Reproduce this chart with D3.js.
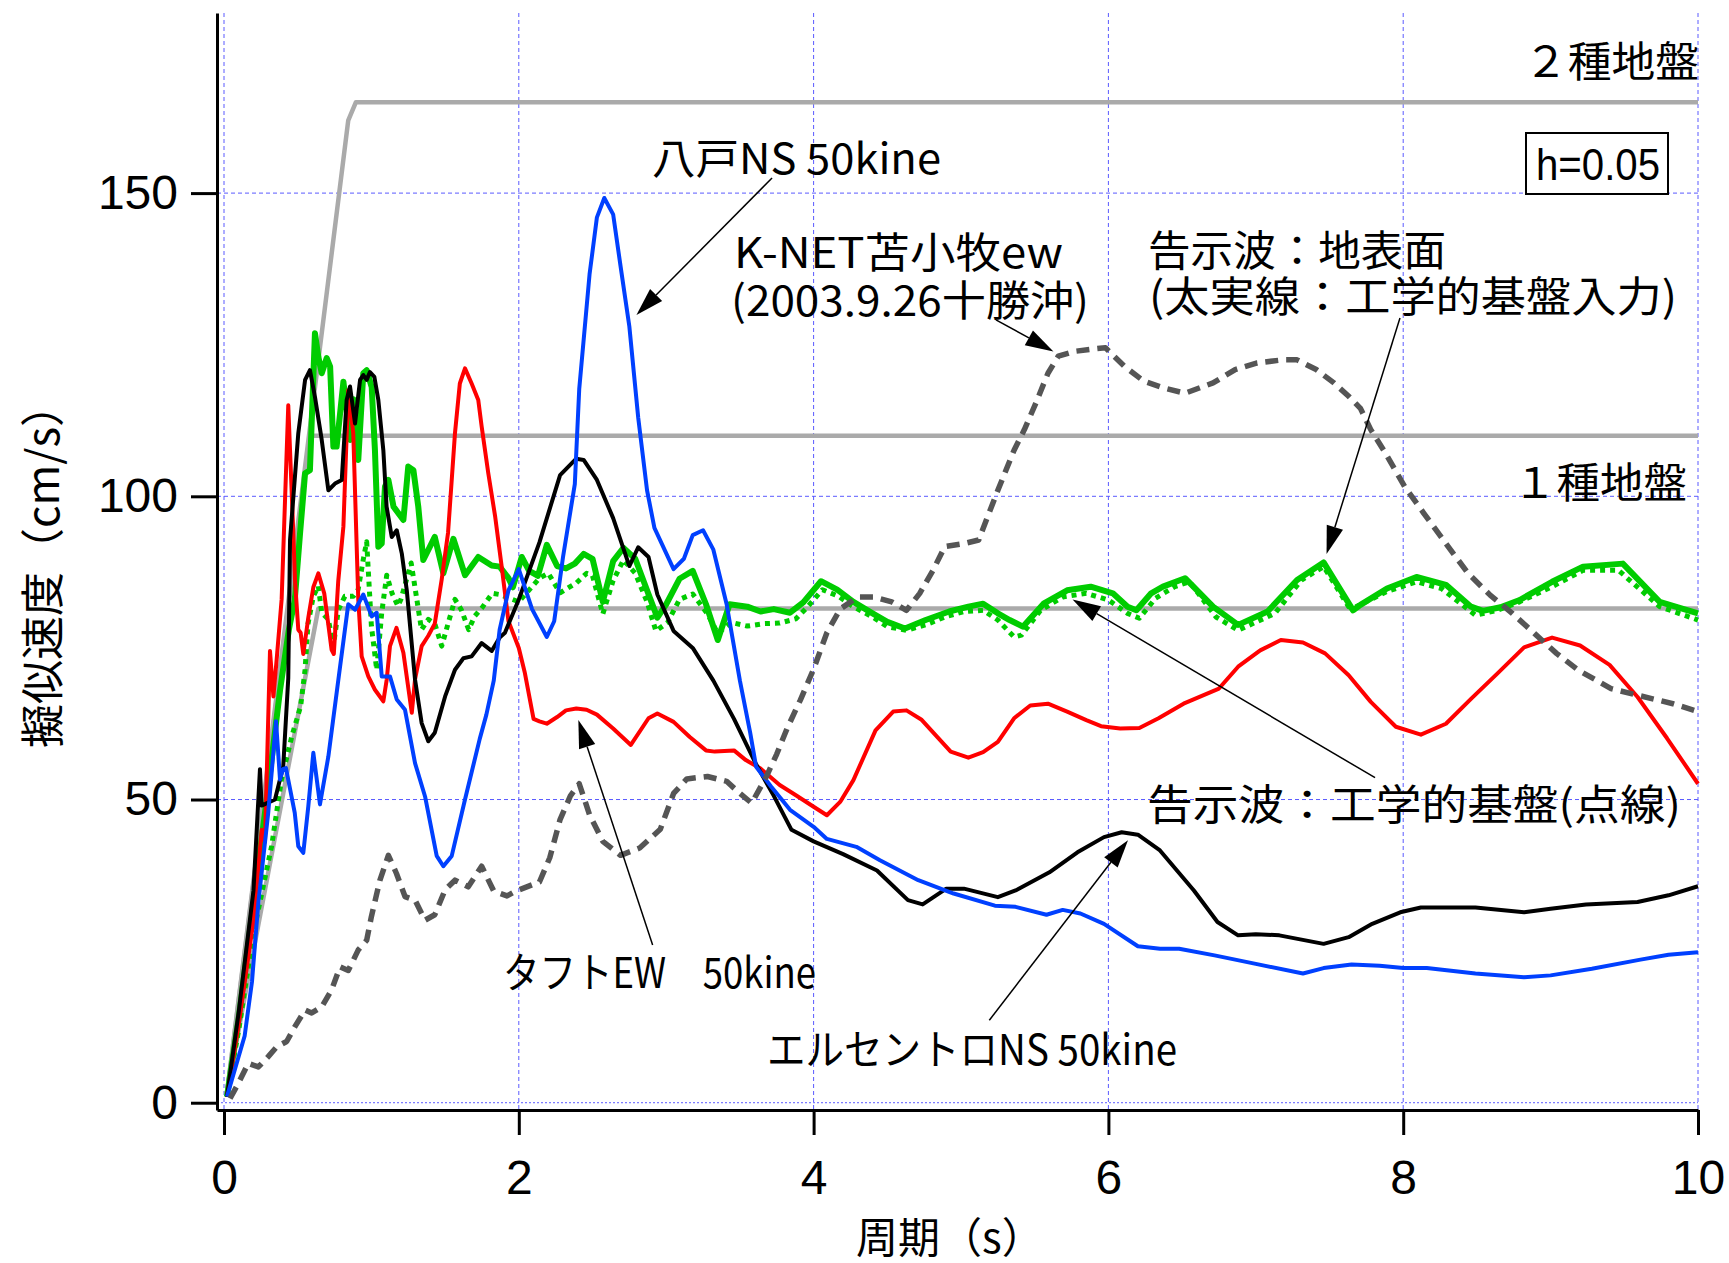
<!DOCTYPE html>
<html>
<head>
<meta charset="utf-8">
<script src="https://cdn.jsdelivr.net/npm/d3@7"></script>
<style>
  body { margin: 0; background: #fff; }
  svg { display: block; }
</style>
</head>
<body>
<svg id="chart" width="1729" height="1263"></svg>
<script>
// Pseudo-velocity response spectra, h = 0.05. Each entry: [period (s), pSv (cm/s)]

// 八戸NS 50kine
const hachinoheNS = [
  [0.02,1],[0.14,11],[0.19,20],[0.233,33],[0.30,47.8],[0.353,62.9],[0.38,53.3],[0.40,55],[0.42,55.2],
  [0.48,47.8],[0.504,42.3],[0.538,41.2],[0.572,48.9],[0.606,57.7],[0.651,49.2],[0.708,57.1],[0.776,69.8],
  [0.843,82.2],[0.889,81.3],[0.945,83.8],[1.002,80.2],[1.036,80.8],[1.07,70.3],[1.126,70.3],[1.172,66.5],
  [1.228,64.8],[1.296,56],[1.364,50.5],[1.443,40.7],[1.488,39],[1.545,40.7],[1.635,50],[1.735,60],
  [1.78,64],[1.83,69.6],[1.87,78],[1.93,84.5],[2.0,88],[2.09,81.4],[2.19,76.8],[2.24,79.4],[2.30,90],
  [2.38,102],[2.41,117.7],[2.48,136.6],[2.53,146],[2.58,149.2],[2.64,146.5],[2.69,138],[2.75,128],
  [2.81,113],[2.87,101],[2.92,94.8],[3.05,88],[3.12,89.7],[3.18,93.6],[3.25,94.4],[3.32,91.2],[3.41,82.2],
  [3.50,69.6],[3.57,61],[3.61,55.4],[3.71,52.2],[3.84,48.3],[4.0,45.5],[4.09,43.5],[4.29,42.2],[4.45,40],
  [4.71,36.7],[4.95,34.5],[5.23,32.5],[5.37,32.3],[5.58,31],[5.69,31.8],[5.81,31.2],[5.97,29.5],[6.2,25.8],
  [6.35,25.4],[6.48,25.4],[6.72,24.3],[7.0,22.9],[7.32,21.3],[7.46,22.2],[7.65,22.8],[7.84,22.6],[8.0,22.2],
  [8.16,22.2],[8.49,21.3],[8.82,20.7],[9.0,21],[9.28,22.1],[9.61,23.6],[9.8,24.4],[10,24.8]
];

// エルセントロNS 50kine
const elCentroNS = [
  [0.02,1],[0.1,15],[0.2,35],[0.244,55],[0.255,49],[0.346,50],[0.402,55.5],[0.436,70],[0.448,92.8],
  [0.504,110.4],[0.55,119.2],[0.583,120.8],[0.617,116.4],[0.663,109.3],[0.708,101],[0.753,102.1],
  [0.799,102.7],[0.832,115.9],[0.855,118.1],[0.889,112],[0.923,119.2],[0.945,120],[0.968,119.2],
  [0.99,120.5],[1.02,119.7],[1.047,115.9],[1.081,107.6],[1.103,98.3],[1.138,93.3],[1.172,94.4],
  [1.206,90.6],[1.24,84.5],[1.296,69.8],[1.341,62.6],[1.386,59.6],[1.43,61],[1.5,67],[1.567,71.4],
  [1.624,73.3],[1.68,73.6],[1.748,75.8],[1.816,74.5],[1.87,76.7],[1.906,77.5],[2.0,83],[2.14,92.4],
  [2.28,103.5],[2.39,106.2],[2.44,106],[2.53,102.7],[2.64,96.4],[2.75,88.5],[2.81,91.6],[2.88,90],
  [2.94,83.8],[3.05,77.8],[3.18,75],[3.32,69.6],[3.46,63.3],[3.61,55.8],[3.73,50.6],[3.85,45],[4.0,43.1],
  [4.2,41],[4.43,38.3],[4.64,33.4],[4.74,32.7],[4.9,35.3],[5.02,35.3],[5.25,33.9],[5.37,35],[5.6,38],
  [5.79,41.3],[5.97,43.8],[6.09,44.6],[6.2,44.2],[6.35,41.6],[6.58,35],[6.74,29.8],[6.88,27.6],[7.0,27.8],
  [7.16,27.6],[7.46,26.2],[7.63,27.3],[7.79,29.5],[7.98,31.4],[8.12,32.2],[8.49,32.2],[8.82,31.4],[9.0,32],
  [9.24,32.7],[9.59,33.1],[9.8,34.2],[10,35.7]
];

// タフトEW 50kine
const taftEW = [
  [0.02,1],[0.1,13],[0.2,30],[0.256,45],[0.278,43],[0.312,74.5],[0.335,67],[0.357,73],[0.391,83],
  [0.436,115],[0.47,94],[0.482,86],[0.504,78],[0.52,77.5],[0.538,74],[0.572,80],[0.606,85],[0.64,87.3],
  [0.68,84],[0.73,74.7],[0.745,74],[0.775,86],[0.81,95],[0.843,117.5],[0.877,110.4],[0.911,83],
  [0.934,73.6],[0.979,70.3],[1.024,68.1],[1.081,66.2],[1.104,69.8],[1.126,75.3],[1.17,78.3],[1.217,74.2],
  [1.274,64.3],[1.296,69.8],[1.341,75.3],[1.386,77],[1.43,79],[1.477,86.3],[1.52,94],[1.567,110.4],
  [1.6,118.6],[1.635,121.1],[1.68,118.6],[1.725,115.9],[1.748,111.5],[1.793,103.8],[1.84,96.6],
  [1.884,88.4],[1.93,79.4],[2.0,75],[2.04,71],[2.1,63.3],[2.14,62.9],[2.19,62.5],[2.26,63.6],[2.32,64.7],
  [2.39,65],[2.46,64.8],[2.53,64],[2.64,61.7],[2.76,59],[2.88,63.4],[2.94,64.2],[3.05,62.8],[3.16,60.3],
  [3.27,58.1],[3.33,57.9],[3.46,58.1],[3.54,56.5],[3.64,55.1],[3.77,52.4],[3.88,50.7],[4.0,48.8],
  [4.09,47.4],[4.18,49.6],[4.27,53.2],[4.42,61.4],[4.54,64.5],[4.63,64.7],[4.73,63.2],[4.84,60.3],
  [4.93,57.9],[5.05,56.9],[5.15,57.8],[5.25,59.5],[5.36,63.4],[5.47,65.5],[5.59,65.8],[5.72,64.5],
  [5.85,63.1],[5.95,62.1],[6.08,61.7],[6.21,61.8],[6.34,63.4],[6.51,65.8],[6.75,68.3],[6.88,71.9],
  [7.03,74.6],[7.17,76.3],[7.32,75.9],[7.47,74.1],[7.63,70.5],[7.78,66.1],[7.95,62],[8.12,60.7],
  [8.29,62.5],[8.46,66.6],[8.64,70.8],[8.82,75.1],[9.01,76.7],[9.2,75.4],[9.4,72.2],[9.59,66.9],
  [9.79,60.1],[10,52.6]
];

// 告示波：地表面 (engineering bedrock input)
const kokujiSurface = [
  [0.02,1],[0.1,14],[0.2,33],[0.3,52],[0.38,68],[0.44,78],[0.48,82.9],[0.516,93.9],[0.55,103.8],
  [0.583,104.3],[0.617,126.9],[0.64,123],[0.663,120.3],[0.697,122.8],[0.72,121.4],[0.742,108.2],
  [0.764,108.2],[0.81,118.9],[0.855,109.3],[0.878,116],[0.911,106],[0.945,120.3],[0.968,120.8],
  [1.002,118],[1.024,107.6],[1.047,91.7],[1.07,92.2],[1.092,101.6],[1.115,102.7],[1.15,98.3],
  [1.217,96.1],[1.25,104.9],[1.285,104.3],[1.318,98.3],[1.352,89.5],[1.43,93.3],[1.488,87.3],
  [1.556,93],[1.635,87],[1.725,90],[1.816,88.6],[1.87,88.4],[1.93,86.5],[1.96,85],[2.02,90],[2.07,87.7],
  [2.13,86.9],[2.19,92],[2.26,88.5],[2.32,88.1],[2.38,88.9],[2.44,90.5],[2.5,89.7],[2.57,82.6],
  [2.64,89.3],[2.71,91.5],[2.79,89.7],[2.87,84.5],[2.94,80],[3.0,82.2],[3.09,86.4],[3.18,87.7],
  [3.27,82.2],[3.35,76.3],[3.43,82.2],[3.55,81.8],[3.64,81],[3.73,81.4],[3.84,80.8],[3.93,82.5],
  [4.05,86],[4.16,84.6],[4.27,82.6],[4.4,80.7],[4.5,79.3],[4.62,78.2],[4.76,79.6],[4.92,81],[5.05,81.8],
  [5.15,82.3],[5.25,80.7],[5.33,79.6],[5.42,78.5],[5.56,82.3],[5.72,84.5],[5.88,85.1],[6.03,84],
  [6.13,81.8],[6.19,81.2],[6.29,84],[6.37,85.1],[6.52,86.5],[6.71,81.8],[6.88,78.8],[7.08,81],
  [7.28,86.2],[7.46,89.1],[7.66,81.2],[7.71,82.1],[7.89,84.8],[8.09,86.7],[8.29,85.4],[8.46,81.8],
  [8.54,81.1],[8.66,81.7],[8.79,82.9],[9.01,85.9],[9.22,88.4],[9.49,88.9],[9.74,82.6],[10,80.7]
];

// 告示波：工学的基盤
const kokujiBedrock = [
  [0.02,1],[0.1,12],[0.2,28],[0.323,42.3],[0.39,53.3],[0.46,60.4],[0.52,65.4],[0.55,71.4],[0.57,79],
  [0.606,83.5],[0.64,85.2],[0.663,80.8],[0.708,79.7],[0.742,75.3],[0.776,81.3],[0.82,83.5],[0.877,83.5],
  [0.91,84.6],[0.945,89.6],[0.968,92.5],[1.0,78.6],[1.036,71.4],[1.07,80.8],[1.104,87],[1.14,84],
  [1.18,81.9],[1.2,83],[1.27,89],[1.34,78],[1.386,79.7],[1.43,79],[1.477,75.3],[1.52,79],[1.567,83],
  [1.61,81.3],[1.66,78],[1.7,80.2],[1.75,81.6],[1.82,84],[1.87,83.8],[2.0,82.6],[2.14,86.5],[2.2,87.3],
  [2.28,84.1],[2.39,85.7],[2.46,87.3],[2.5,86.9],[2.57,80.6],[2.64,86.1],[2.71,89.5],[2.79,87.3],
  [2.87,82.6],[2.93,77.8],[3.01,79.2],[3.09,83],[3.18,83.9],[3.28,80.6],[3.35,77.4],[3.44,79.2],
  [3.55,78.6],[3.66,79],[3.77,79.1],[3.88,79.8],[3.96,81.8],[4.06,84.6],[4.17,83.5],[4.27,81.8],
  [4.4,80.1],[4.5,78.5],[4.63,77.9],[4.76,78.8],[4.89,80.1],[5.02,81],[5.15,81.2],[5.25,79.6],
  [5.36,76.8],[5.41,77.1],[5.54,81.2],[5.69,83.4],[5.85,84],[6.0,82.9],[6.13,80.7],[6.21,79.9],
  [6.32,83.2],[6.45,85.1],[6.55,85.9],[6.73,80.1],[6.88,77.9],[7.13,80.7],[7.31,86.2],[7.46,88.4],
  [7.63,81.8],[7.68,81.8],[7.89,84.3],[8.09,85.9],[8.26,84.8],[8.49,80.4],[8.64,81.2],[8.79,82.6],
  [9.01,85.1],[9.22,87.8],[9.46,87.8],[9.74,81.8],[10,79.6]
];

// K-NET苫小牧ew (2003.9.26 十勝沖)
const knetTomakomaiEW = [
  [0.041,0.7],[0.097,3.2],[0.165,6.5],[0.233,5.9],[0.3,7.6],[0.357,9.2],[0.425,10.1],[0.48,12.5],
  [0.55,15.3],[0.595,14.8],[0.663,15.8],[0.73,18.6],[0.787,22.4],[0.843,21.8],[0.911,25.2],[0.968,26.8],
  [1.0,30.7],[1.058,36.7],[1.115,40.8],[1.17,37.8],[1.228,34],[1.296,33.4],[1.364,30.1],[1.43,31],
  [1.5,35.1],[1.567,36.7],[1.657,35.6],[1.748,39],[1.83,34.9],[1.92,34.1],[1.98,34.9],[2.14,36.4],
  [2.21,40.4],[2.28,46.7],[2.35,50.6],[2.41,52.6],[2.48,47.5],[2.57,43.1],[2.69,40.8],[2.82,42],
  [2.96,45.1],[3.05,51],[3.14,53.4],[3.28,53.8],[3.41,53],[3.5,51],[3.58,49.4],[3.68,53.8],[3.75,57.5],
  [3.82,61.7],[3.91,66.4],[4.0,71.5],[4.09,77.5],[4.18,81.4],[4.3,83.4],[4.41,83.4],[4.53,82.6],
  [4.63,81.2],[4.72,84],[4.81,87.8],[4.89,91.7],[5.02,92.2],[5.12,92.8],[5.18,96.6],[5.25,101],
  [5.36,107.6],[5.43,111],[5.51,115.5],[5.59,120.3],[5.66,123.1],[5.77,123.9],[5.9,124.3],[5.98,124.5],
  [6.11,121.4],[6.24,119],[6.37,117.9],[6.52,117],[6.71,118.7],[6.86,120.9],[7.01,122],[7.18,122.5],
  [7.28,122.5],[7.41,120.9],[7.53,118.7],[7.63,116.5],[7.71,114.5],[7.78,111],[7.88,107.1],[8.01,101.6],
  [8.14,97.2],[8.29,92.2],[8.44,87.3],[8.59,83.7],[8.74,80.7],[8.89,77.4],[9.04,74.1],[9.19,71.3],
  [9.41,68.3],[9.59,67.2],[9.83,65.8],[10,64.5]
];

// Design spectra (告示) envelopes
const designType2 = [[0.02,1.5],[0.843,162],[0.895,165],[10,165]];   // ２種地盤
const designType1 = [[0.02,1.5],[0.583,110],[10,110]];                // １種地盤
const designBedrock = [[0.02,1.5],[0.16,20],[0.64,81.5],[10,81.5]];   // 工学的基盤

const xTicks = [0, 2, 4, 6, 8, 10];
const yTicks = [0, 50, 100, 150];

// ---------------------------------------------------------------------------
const svg = d3.select('#chart');
const W = 1729, H = 1263;
const plot = { left: 217, right: 1698, top: 13, bottom: 1110 };

const x = d3.scaleLinear().domain([-0.0475, 10]).range([plot.left, plot.right]);
const y = d3.scaleLinear().domain([-1.2, 179.7]).range([plot.bottom, plot.top]);

svg.append('rect').attr('width', W).attr('height', H).attr('fill', '#fff');

// grid
const grid = svg.append('g').attr('class', 'grid')
  .attr('stroke', '#5a5aff').attr('stroke-width', 1).attr('fill', 'none');
grid.selectAll('line.vx').data(xTicks).join('line')
  .attr('x1', d => x(d)).attr('x2', d => x(d))
  .attr('y1', plot.top).attr('y2', plot.bottom)
  .attr('stroke-dasharray', '4,3');
grid.selectAll('line.hy').data(yTicks).join('line')
  .attr('x1', plot.left).attr('x2', plot.right)
  .attr('y1', d => y(d)).attr('y2', d => y(d))
  .attr('stroke-dasharray', d => d === 0 ? '2,2' : '4,3');

const line = d3.line().x(d => x(d[0])).y(d => y(d[1]));

const series = [
  { data: designType2,    color: '#aaaaaa', width: 4.5 },
  { data: designType1,    color: '#aaaaaa', width: 4.5 },
  { data: designBedrock,  color: '#aaaaaa', width: 4.5 },
  { data: kokujiBedrock,  color: '#00cc00', width: 5, dash: '5,5' },
  { data: kokujiSurface,  color: '#00cc00', width: 6 },
  { data: taftEW,         color: '#ff0000', width: 4 },
  { data: elCentroNS,     color: '#000000', width: 4 },
  { data: hachinoheNS,    color: '#0040ff', width: 4 },
  { data: knetTomakomaiEW,color: '#555555', width: 5.5, dash: '13,8' }
];

svg.append('g').selectAll('path').data(series).join('path')
  .attr('d', d => line(d.data))
  .attr('fill', 'none')
  .attr('stroke', d => d.color)
  .attr('stroke-width', d => d.width)
  .attr('stroke-linejoin', 'round')
  .attr('stroke-dasharray', d => d.dash || null);

// axes
const tickFont = '"Liberation Sans", Arial, sans-serif';
const xAxis = svg.append('g').attr('transform', `translate(0,${plot.bottom})`)
  .call(d3.axisBottom(x).tickValues(xTicks).tickSize(25).tickSizeOuter(0).tickPadding(25)
    .tickFormat(d3.format('d')));
const yAxis = svg.append('g').attr('transform', `translate(${plot.left},0)`)
  .call(d3.axisLeft(y).tickValues(yTicks).tickSize(26).tickSizeOuter(0).tickPadding(13)
    .tickFormat(d3.format('d')));
[xAxis, yAxis].forEach(g => {
  g.select('.domain').attr('stroke', '#000').attr('stroke-width', 3);
  g.selectAll('.tick line').attr('stroke', '#000').attr('stroke-width', 3);
  g.selectAll('.tick text').attr('fill', '#000')
    .style('font-family', tickFont).style('font-size', '48px');
});

// axis titles
const jpFont = '"Noto Sans CJK JP", "Noto Sans CJK SC", sans-serif';
svg.append('text')
  .attr('x', 856).attr('y', 1234)
  .attr('dominant-baseline', 'central')
  .style('font-family', jpFont).style('font-size', '42px')
  .text('周期（s）');
svg.append('text')
  .attr('transform', 'translate(40,748) rotate(-90)')
  .attr('dominant-baseline', 'central')
  .style('font-family', jpFont).style('font-size', '44px')
  .text('擬似速度（cm/s）');

// annotation labels; multi-line labels are one text element with one tspan per line
const labels = [
  { lines: [{ t: '２種地盤', x: 1524, y: 58, w: 175 }] },
  { lines: [{ t: '１種地盤', x: 1513, y: 479, w: 174 }] },
  { lines: [{ t: '八戸NS 50kine', x: 652, y: 155, w: 289 }] },
  { lines: [{ t: 'K-NET苫小牧ew', x: 734, y: 249, w: 329 },
            { t: '(2003.9.26十勝沖)', x: 731, y: 297, w: 358 }] },
  { lines: [{ t: '告示波：地表面', x: 1148, y: 247, w: 298 },
            { t: '(太実線：工学的基盤入力)', x: 1149, y: 293, w: 528 }] },
  { lines: [{ t: '告示波：工学的基盤(点線)', x: 1147, y: 801, w: 534 }] },
  { lines: [{ t: 'タフトEW　50kine', x: 503, y: 969, w: 313 }] },
  { lines: [{ t: 'エルセントロNS 50kine', x: 767, y: 1046, w: 410 }] }
];
svg.append('g').selectAll('text').data(labels).join('text')
  .style('font-family', jpFont).style('font-size', '42px')
  .selectAll('tspan').data(d => d.lines).join('tspan')
  .attr('x', d => d.x).attr('y', d => d.y)
  .attr('dominant-baseline', 'central')
  .attr('textLength', d => d.w).attr('lengthAdjust', 'spacingAndGlyphs')
  .text(d => d.t);

// damping box
svg.append('rect')
  .attr('x', 1526).attr('y', 133).attr('width', 142).attr('height', 61)
  .attr('fill', '#fff').attr('stroke', '#000').attr('stroke-width', 2);
svg.append('text')
  .attr('x', 1536).attr('y', 180)
  .attr('textLength', 124).attr('lengthAdjust', 'spacingAndGlyphs')
  .style('font-family', tickFont).style('font-size', '44px')
  .text('h=0.05');

// leader arrows (tail -> tip, in period / pSv units)
const arrows = [
  { from: [3.718, 152.5], to: [2.798, 129.9] },
  { from: [5.237, 129.1], to: [5.627, 123.9] },
  { from: [7.978, 129.4], to: [7.48, 90.5] },
  { from: [7.809, 53.6],  to: [5.757, 83.0] },
  { from: [2.908, 26.0],  to: [2.404, 63.1] },
  { from: [5.192, 13.6],  to: [6.133, 43.3] }
];
const ag = svg.append('g');
arrows.forEach(a => {
  const x1 = x(a.from[0]), y1 = y(a.from[1]);
  const x2 = x(a.to[0]), y2 = y(a.to[1]);
  const ang = Math.atan2(y2 - y1, x2 - x1);
  const L = 28, hw = 8.5;
  const bx = x2 - L * Math.cos(ang), by = y2 - L * Math.sin(ang);
  ag.append('line').attr('x1', x1).attr('y1', y1).attr('x2', bx).attr('y2', by)
    .attr('stroke', '#000').attr('stroke-width', 1.5);
  const px = -Math.sin(ang) * hw, py = Math.cos(ang) * hw;
  ag.append('polygon')
    .attr('points', `${x2},${y2} ${bx + px},${by + py} ${bx - px},${by - py}`)
    .attr('fill', '#000');
});
</script>
</body>
</html>
